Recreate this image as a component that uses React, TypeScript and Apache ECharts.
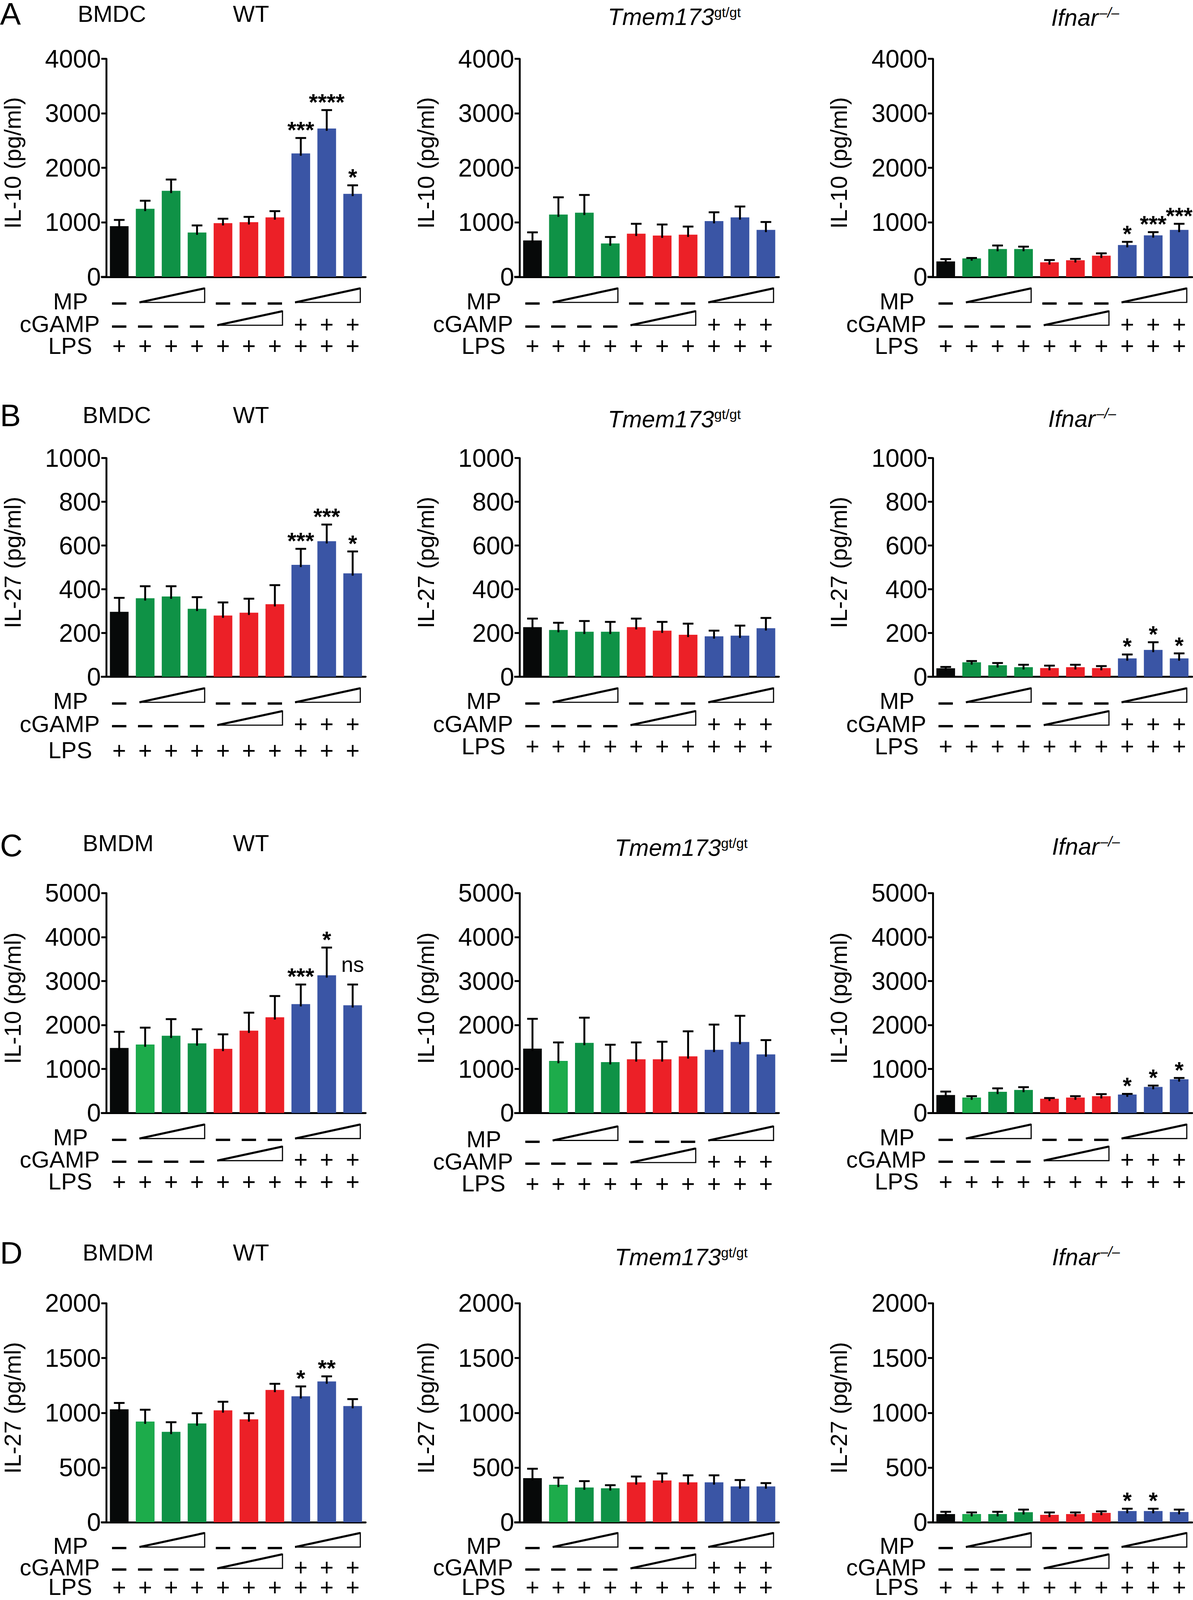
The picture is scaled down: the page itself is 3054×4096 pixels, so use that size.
import React, { useEffect, useRef } from "react";
import * as echarts from "echarts";

const S = 0.975;
const FONT = '"Liberation Sans", Arial, Helvetica, sans-serif';

// ---------------- data ----------------
const categories = [
  "LPS", "LPS+MP1", "LPS+MP2", "LPS+MP3",
  "LPS+cGAMP1", "LPS+cGAMP2", "LPS+cGAMP3",
  "LPS+cGAMP+MP1", "LPS+cGAMP+MP2", "LPS+cGAMP+MP3",
];

// treatment table (empty string = covered by a wedge)
const mpRow = ["–", "", "", "", "–", "–", "–", "", "", ""];
const cgampRow = ["–", "–", "–", "–", "", "", "", "+", "+", "+"];
const lpsRow = ["+", "+", "+", "+", "+", "+", "+", "+", "+", "+"];
const treatmentRows = [mpRow, cgampRow, lpsRow];
const treatmentLabels = ["MP", "cGAMP", "LPS"];
// wedges: [first category, last category, table row]
const wedges = [[1, 3, 0], [4, 6, 1], [7, 9, 0]];

// y axes per row
const yMax = [4000, 1000, 5000, 2000];
const yStep = [1000, 200, 1000, 500];
const yTitles = ["IL-10 (pg/ml)", "IL-27 (pg/ml)", "IL-10 (pg/ml)", "IL-27 (pg/ml)"];
const panelLetters = ["A", "B", "C", "D"];
const cellTypes = ["BMDC", "BMDC", "BMDM", "BMDM"];

// A: IL-10, BMDC
const il10DcWt = [931, 1249, 1579, 813, 986, 1003, 1092, 2265, 2722, 1524];
const il10DcWtSem = [114, 148, 207, 131, 81, 98, 114, 283, 338, 156];
const il10DcWtSig = ["", "", "", "", "", "", "", "***", "****", "*"];
const il10DcTmem = [669, 1143, 1177, 614, 792, 758, 775, 1024, 1092, 863];
const il10DcTmemSem = [148, 317, 326, 118, 182, 203, 148, 161, 199, 144];
const il10DcTmemSig = ["", "", "", "", "", "", "", "", "", ""];
const il10DcIfnar = [284, 339, 512, 512, 267, 305, 389, 584, 762, 863];
const il10DcIfnarSem = [42, 8, 64, 43, 42, 25, 43, 59, 59, 111];
const il10DcIfnarSig = ["", "", "", "", "", "", "", "*", "***", "***"];

// B: IL-27, BMDC
const il27DcWt = [297, 359, 367, 311, 280, 293, 332, 512, 620, 473];
const il27DcWtSem = [64, 55, 47, 53, 60, 64, 87, 73, 76, 100];
const il27DcWtSig = ["", "", "", "", "", "", "", "***", "***", "*"];
const il27DcTmem = [227, 214, 206, 206, 227, 211, 192, 185, 188, 222];
const il27DcTmemSem = [39, 33, 49, 45, 39, 40, 51, 26, 46, 47];
const il27DcTmemSig = ["", "", "", "", "", "", "", "", "", ""];
const il27DcIfnar = [39, 66, 53, 44, 40, 44, 40, 84, 123, 84];
const il27DcIfnarSem = [6, 6, 10, 11, 11, 11, 9, 18, 35, 23];
const il27DcIfnarSig = ["", "", "", "", "", "", "", "*", "*", "*"];

// C: IL-10, BMDM
const il10MacWt = [1480, 1558, 1758, 1584, 1459, 1873, 2177, 2476, 3132, 2450];
const il10MacWtSem = [367, 383, 377, 320, 330, 409, 483, 446, 630, 472];
const il10MacWtSig = ["", "", "", "", "", "", "", "***", "*", "ns"];
const il10MacTmem = [1463, 1184, 1595, 1158, 1221, 1221, 1289, 1437, 1616, 1332];
const il10MacTmemSem = [679, 421, 573, 395, 384, 400, 569, 574, 595, 326];
const il10MacTmemSig = ["", "", "", "", "", "", "", "", "", ""];
const il10MacIfnar = [409, 352, 483, 525, 325, 352, 383, 420, 593, 766];
const il10MacIfnarSem = [79, 31, 78, 63, 16, 31, 47, 15, 31, 31];
const il10MacIfnarSig = ["", "", "", "", "", "", "", "*", "*", "*"];

// D: IL-27, BMDM
const il27MacWt = [1032, 920, 826, 903, 1022, 940, 1209, 1151, 1286, 1062];
const il27MacWtSem = [58, 108, 88, 93, 79, 56, 56, 90, 47, 63];
const il27MacWtSig = ["", "", "", "", "", "", "", "*", "**", ""];
const il27MacTmem = [403, 343, 318, 311, 365, 382, 365, 365, 328, 328];
const il27MacTmemSem = [86, 65, 58, 28, 53, 64, 64, 64, 58, 30];
const il27MacTmemSig = ["", "", "", "", "", "", "", "", "", ""];
const il27MacIfnar = [75, 75, 75, 92, 68, 75, 86, 103, 103, 94];
const il27MacIfnarSem = [21, 15, 21, 24, 22, 15, 14, 21, 21, 22];
const il27MacIfnarSig = ["", "", "", "", "", "", "", "*", "*", ""];

// ---------------- styles / layout ----------------
const BLACK = "#070909";
const GREEN = "#0f9246";
const LGREEN = "#1dac4b";
const RED = "#ec2027";
const BLUE = "#3a55a5";
const colorsDC = [BLACK, GREEN, GREEN, GREEN, RED, RED, RED, BLUE, BLUE, BLUE];
const colorsMac = [BLACK, LGREEN, GREEN, GREEN, RED, RED, RED, BLUE, BLUE, BLUE];

// reference-pixel layout (scaled by S)
const colLeft = [279, 1364, 2449];
const plotW = 681;
const rowTop = [154.5, 1202.7, 2345, 3422];
const rowZero = [727, 1777, 2922.4, 3997];
const tableOffsets = [[64, 124, 181], [64, 124, 182], [64, 122, 180], [62, 118, 170]];
const tableShift = [[0, 0, 0], [0, 0, 0], [0, 5, 0], [0, 0, 0]];
const lpsExtra = [[0, 0, 0], [11, 0, 0], [0, 0, 0], [0, 0, 0]];
const letterY = [36, 1091, 2220, 3290];
const cellY = [36, 1090, 2214, 3289];
const cellX = [204, 217, 217, 217];
const tmemX = [1596, 1596, 1614, 1614];
const tmemY = [44, 1100, 2226, 3301];
const ifnarX = [2760, 2752, 2762, 2762];
const ifnarY = [46, 1099, 2223, 3300];

const panels = [
  { row: 0, col: 0, mean: il10DcWt, sem: il10DcWtSem, sig: il10DcWtSig, colors: colorsDC },
  { row: 0, col: 1, mean: il10DcTmem, sem: il10DcTmemSem, sig: il10DcTmemSig, colors: colorsDC },
  { row: 0, col: 2, mean: il10DcIfnar, sem: il10DcIfnarSem, sig: il10DcIfnarSig, colors: colorsDC },
  { row: 1, col: 0, mean: il27DcWt, sem: il27DcWtSem, sig: il27DcWtSig, colors: colorsDC },
  { row: 1, col: 1, mean: il27DcTmem, sem: il27DcTmemSem, sig: il27DcTmemSig, colors: colorsDC },
  { row: 1, col: 2, mean: il27DcIfnar, sem: il27DcIfnarSem, sig: il27DcIfnarSig, colors: colorsDC },
  { row: 2, col: 0, mean: il10MacWt, sem: il10MacWtSem, sig: il10MacWtSig, colors: colorsMac },
  { row: 2, col: 1, mean: il10MacTmem, sem: il10MacTmemSem, sig: il10MacTmemSig, colors: colorsMac },
  { row: 2, col: 2, mean: il10MacIfnar, sem: il10MacIfnarSem, sig: il10MacIfnarSig, colors: colorsMac },
  { row: 3, col: 0, mean: il27MacWt, sem: il27MacWtSem, sig: il27MacWtSig, colors: colorsMac },
  { row: 3, col: 1, mean: il27MacTmem, sem: il27MacTmemSem, sig: il27MacTmemSig, colors: colorsMac },
  { row: 3, col: 2, mean: il27MacIfnar, sem: il27MacIfnarSem, sig: il27MacIfnarSig, colors: colorsMac },
];

const SYM_SIZE = 62; // reference px
const DASH_TARGET = 39; // reference px: ink width of the table dashes

// measure ink width of the dash glyph so it can be stretched to the reference width
function dashScale(): number {
  try {
    const cv = document.createElement("canvas");
    const ctx = cv.getContext("2d");
    if (!ctx) return 1.3;
    ctx.font = `bold ${SYM_SIZE * S}px ${FONT}`;
    const m: any = ctx.measureText("–");
    const ink = (m.actualBoundingBoxRight || 0) + (m.actualBoundingBoxLeft || 0);
    const w = ink > 1 ? ink : m.width;
    const sc = (DASH_TARGET * S) / w;
    return sc > 0.6 && sc < 3 ? sc : 1.3;
  } catch (e) {
    return 1.3;
  }
}

function txt(text: string, x: number, y: number, size: number, opts: any = {}) {
  return {
    type: "text",
    x: x * S,
    y: y * S,
    rotation: opts.rotation || 0,
    silent: true,
    style: {
      text,
      fill: "#000",
      fontSize: size * S,
      fontFamily: FONT,
      fontStyle: opts.italic ? "italic" : "normal",
      fontWeight: opts.bold ? "bold" : "normal",
      align: opts.align || "left",
      verticalAlign: "middle",
      lineHeight: (opts.lineHeight || size) * S,
    },
  };
}

function buildOption() {
  const grid: any[] = [];
  const xAxis: any[] = [];
  const yAxis: any[] = [];
  const series: any[] = [];
  const elements: any[] = [];
  const LW = 5 * S;
  const dsx = dashScale();

  panels.forEach((p, k) => {
    const r = p.row;
    const c = p.col;
    const left = colLeft[c];
    const top = rowTop[r];
    const zero = rowZero[r];
    const offs = tableOffsets[r].map((o, j) => o + tableShift[r][c] + (j === 2 ? lpsExtra[r][c] : 0));

    grid.push({ left: left * S, top: top * S, width: plotW * S, height: (zero - top) * S });
    xAxis.push({
      type: "category",
      gridIndex: k,
      data: categories,
      boundaryGap: true,
      axisLine: { show: true, onZero: false, lineStyle: { color: "#000", width: LW } },
      axisTick: { show: false },
      axisLabel: { show: false },
      splitLine: { show: false },
    });
    yAxis.push({
      type: "value",
      gridIndex: k,
      min: 0,
      max: yMax[r],
      interval: yStep[r],
      axisLine: { show: true, onZero: false, lineStyle: { color: "#000", width: LW } },
      axisTick: { show: true, length: 13 * S, lineStyle: { color: "#000", width: LW } },
      axisLabel: {
        show: true,
        margin: 14 * S,
        fontSize: 66 * S,
        fontFamily: FONT,
        color: "#000",
        formatter: (v: number) => String(v),
      },
      splitLine: { show: false },
    });

    series.push({
      type: "bar",
      xAxisIndex: k,
      yAxisIndex: k,
      barWidth: "72%",
      silent: true,
      data: p.mean.map((v, i) => ({
        value: v,
        itemStyle: {
          color: p.colors[i],
          borderColor: p.colors[i] === LGREEN ? "#12a04a" : p.colors[i],
          borderWidth: p.colors[i] === LGREEN ? 2 * S : 0,
        },
      })),
    });

    // error bars + significance marks
    series.push({
      type: "custom",
      xAxisIndex: k,
      yAxisIndex: k,
      clip: false,
      silent: true,
      z: 5,
      data: p.mean.map((v, i) => [i, v]),
      renderItem: (params: any, api: any) => {
        const i = params.dataIndex;
        const m = p.mean[i];
        const e = p.sem[i];
        const pm = api.coord([i, m]);
        const x = pm[0];
        const ym = pm[1];
        const yt = api.coord([i, m + e])[1];
        const half = 14 * S;
        const children: any[] = [
          { type: "line", shape: { x1: x, y1: ym + 6 * S, x2: x, y2: yt }, style: { stroke: "#000", lineWidth: LW } },
          { type: "line", shape: { x1: x - half, y1: yt, x2: x + half, y2: yt }, style: { stroke: "#000", lineWidth: LW } },
        ];
        const s = p.sig[i];
        if (s) {
          const ns = s === "ns";
          children.push({
            type: "text",
            style: {
              text: s,
              x,
              y: yt - (ns ? 53 : 21) * S,
              fill: "#000",
              fontSize: (ns ? 57 : 60) * S,
              fontFamily: FONT,
              fontWeight: ns ? "normal" : "bold",
              align: "center",
              verticalAlign: "middle",
            },
          });
        }
        return { type: "group", children };
      },
    });

    // treatment table symbols
    series.push({
      type: "custom",
      xAxisIndex: k,
      yAxisIndex: k,
      clip: false,
      silent: true,
      data: categories.map((_, i) => [i, 0]),
      renderItem: (params: any, api: any) => {
        const i = params.dataIndex;
        const pt = api.coord([i, 0]);
        const children: any[] = [];
        treatmentRows.forEach((row, j) => {
          const sym = row[i];
          if (!sym) return;
          const dash = sym === "–";
          children.push({
            type: "text",
            x: pt[0],
            y: pt[1] + (offs[j] + (dash ? 1 : 0)) * S,
            scaleX: dash ? dsx : 1,
            style: {
              text: sym,
              x: 0,
              y: 0,
              fill: "#000",
              fontSize: SYM_SIZE * S,
              fontFamily: FONT,
              fontWeight: dash ? "bold" : "normal",
              align: "center",
              verticalAlign: "middle",
              lineHeight: 44 * S,
            },
          });
        });
        return { type: "group", children };
      },
    });

    // dose wedges
    series.push({
      type: "custom",
      xAxisIndex: k,
      yAxisIndex: k,
      clip: false,
      silent: true,
      data: wedges.map((w) => [w[0], 0]),
      renderItem: (params: any, api: any) => {
        const w = wedges[params.dataIndex];
        const p0 = api.coord([w[0], 0]);
        const p1 = api.coord([w[1], 0]);
        const xs = p0[0] - 15 * S;
        const xe = p1[0] + 20 * S;
        const yb = p0[1] + (offs[w[2]] + 3) * S;
        const yt = yb - 37 * S;
        return {
          type: "group",
          children: [
            {
              type: "polygon",
              shape: { points: [[xs, yb], [xe, yb], [xe, yt]] },
              style: { fill: "none", stroke: "#000", lineWidth: 3 * S, lineJoin: "miter" },
            },
            {
              type: "line",
              shape: { x1: xs, y1: yb, x2: xe, y2: yt },
              style: { stroke: "#000", lineWidth: 5.5 * S },
            },
          ],
        };
      },
    });

    // x-axis stub left of the y axis
    elements.push({
      type: "line",
      silent: true,
      shape: { x1: (left - 14) * S, y1: zero * S, x2: left * S, y2: zero * S },
      style: { stroke: "#000", lineWidth: LW },
    });

    // y-axis title
    elements.push(txt(yTitles[r], left - 246, (top + zero) / 2 - 13, 61, { align: "center", rotation: Math.PI / 2 }));

    // treatment row labels
    const rightOff = [48, 17, 37];
    treatmentLabels.forEach((lab, j) => {
      elements.push(txt(lab, left - rightOff[j], zero + offs[j], 61, { align: "right", lineHeight: 46 }));
    });
  });

  // row titles
  for (let r = 0; r < 4; r++) {
    elements.push(txt(panelLetters[r], 0, letterY[r], 82, { lineHeight: 62 }));
    elements.push(txt(cellTypes[r], cellX[r], cellY[r], 61));
    elements.push(txt("WT", 659, cellY[r], 61, { align: "center" }));
    elements.push(txt("Tmem173", tmemX[r], tmemY[r], 62, { italic: true }));
    elements.push(txt("gt/gt", tmemX[r] + 279, tmemY[r] - 12, 36));
    elements.push(txt("Ifnar", ifnarX[r], ifnarY[r], 62, { italic: true }));
    elements.push(txt("–/–", ifnarX[r] + 127, ifnarY[r] - 13, 37, { italic: true }));
  }

  return {
    animation: false,
    backgroundColor: "#ffffff",
    grid,
    xAxis,
    yAxis,
    series,
    graphic: { elements },
  };
}

export default function App() {
  const ref = useRef<HTMLDivElement>(null);
  useEffect(() => {
    const chart = echarts.init(ref.current as HTMLDivElement, null, { renderer: "svg" });
    chart.setOption(buildOption() as any);
    return () => chart.dispose();
  }, []);
  return (
    <div
      ref={ref}
      style={{ position: "absolute", left: 0, top: 0, width: 3054, height: 4096, background: "#fff" }}
    />
  );
}
